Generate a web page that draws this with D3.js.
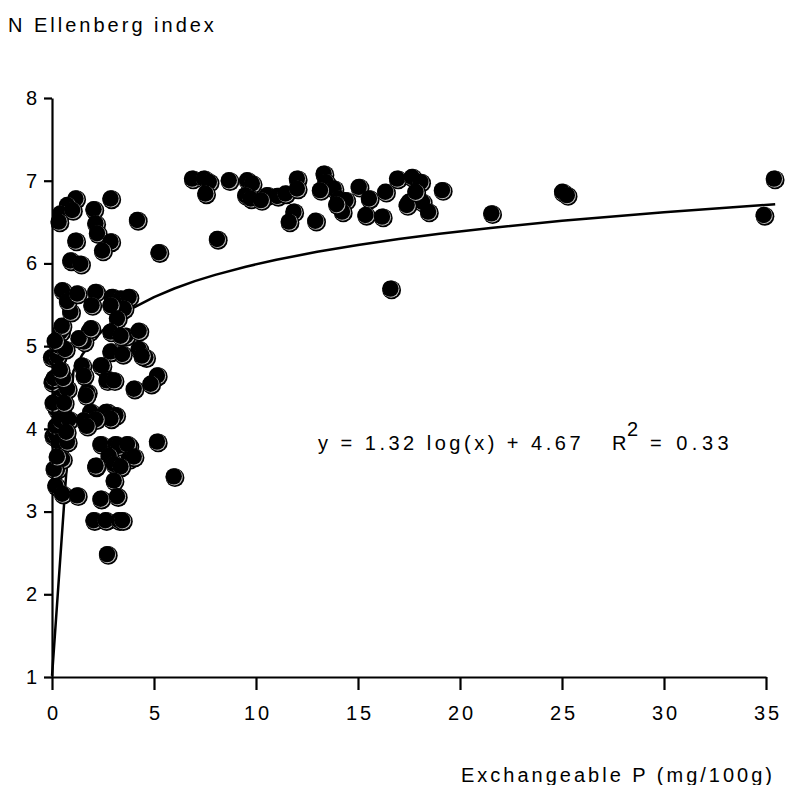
<!DOCTYPE html>
<html>
<head>
<meta charset="utf-8">
<script src="https://cdn.jsdelivr.net/npm/d3@7/dist/d3.min.js"></script>
<style>
  html, body { margin: 0; padding: 0; background: #fff; }
  svg text { font-family: "Liberation Sans", Arial, Helvetica, sans-serif; fill: #000; }
</style>
</head>
<body>
<svg id="chart" width="796" height="785"></svg>
<script>
// ---- Data ----
const pX = [
  0.02,0.05,0.10,0.15,0.23,0.23,0.25,0.25,0.25,0.31,0.31,0.31,0.39,0.39,0.39,0.47,0.47,0.47,0.54,0.56,0.56,0.80,0.80,0.96,0.88,0.15,0.10,0.60,0.70,0.65,0.75,0.30,0.45,0.20,
  0.56,0.80,1.29,2.19,3.00,3.42,3.82,3.58,2.00,2.93,3.25,
  1.86,2.93,1.62,1.37,1.96,3.67,4.31,3.42,2.93,2.44,2.50,3.50,4.31,4.64,4.46,1.52,1.62,2.76,2.74,3.09,5.21,4.89,4.07,1.78,1.72,1.94,2.76,2.70,3.17,1.62,2.93,2.20,1.76,
  2.44,3.17,3.33,3.82,3.74,5.21,2.84,3.82,4.07,2.19,3.09,3.42,2.20,6.03,3.09,1.29,2.44,3.25,2.10,2.68,3.33,3.50,2.76,
  1.21,2.93,0.80,0.47,1.05,2.10,0.39,2.19,2.27,1.21,2.93,2.52,0.96,1.45,4.23,5.29,
  6.93,7.50,7.75,7.58,8.73,9.62,9.86,9.54,9.79,10.6,11.1,11.5,12.07,12.07,11.9,11.67,12.97,13.38,13.47,13.87,14.1,14.45,14.28,15.1,15.6,15.43,16.24,16.4,16.98,17.7,18.12,17.55,18.2,18.5,19.18,17.45,17.88,10.3,13.2,14.0,
  8.15,16.65,21.6,25.07,25.3,35.45,34.95
];
const pY = [
  4.85,4.55,3.90,4.60,3.93,3.30,4.83,4.23,4.02,4.87,4.31,3.50,4.99,4.35,3.83,5.16,4.15,4.09,5.23,3.62,3.20,4.47,3.83,5.40,4.10,3.50,4.30,4.60,4.95,4.30,3.95,3.65,4.70,5.05,
  5.66,5.53,5.62,5.64,5.58,5.56,5.58,5.44,5.48,5.48,5.32,
  5.16,5.16,5.04,5.08,5.20,5.11,5.17,5.11,4.92,4.75,4.75,4.89,4.95,4.85,4.87,4.75,4.63,4.59,4.57,4.57,4.63,4.53,4.47,4.43,4.39,4.19,4.19,4.19,4.15,4.09,4.11,4.10,4.02,
  3.80,3.80,3.78,3.78,3.80,3.83,3.66,3.62,3.65,3.53,3.56,3.53,3.54,3.41,3.36,3.18,3.14,3.17,2.88,2.88,2.88,2.88,2.47,
  6.77,6.77,6.69,6.59,6.63,6.64,6.49,6.47,6.35,6.26,6.25,6.14,6.02,5.98,6.51,6.12,
  7.01,7.01,6.97,6.83,6.99,6.99,6.95,6.81,6.77,6.81,6.80,6.83,7.01,6.89,6.61,6.49,6.50,7.07,6.97,6.89,6.77,6.75,6.61,6.91,6.77,6.57,6.55,6.85,7.01,7.03,6.97,6.73,6.73,6.61,6.87,6.69,6.85,6.75,6.87,6.70,
  6.28,5.68,6.59,6.85,6.81,7.01,6.57
];
// fitted curve: y = 1.32 log10(x) + 4.67, sampled at these x values
const fitA = 1.32, fitB = 4.67;
const fitX = [0.0017,1.05,1.5,2,2.6,3.3,4,5,6,7,8,9.5,11,13,15,17,19,21.5,25,30,35.45];
const xTicks = [0,5,10,15,20,25,30,35];
const yTicks = [1,2,3,4,5,6,7,8];
const yTitle = "N Ellenberg index";
const xTitle = "Exchangeable P (mg/100g)";

// ---- Drawing ----
const svg = d3.select("#chart");
const x = d3.scaleLinear().domain([0,35]).range([52,766]);
const y = d3.scaleLinear().domain([1,8]).range([677,98]);
const FS = "20px", LS = "3px";

// curve
const line = d3.line().x(d => x(d)).y(d => y(fitA*Math.log10(d)+fitB));
svg.append("path").attr("d", line(fitX)).attr("fill","none")
  .attr("stroke","#000").attr("stroke-width",2.5).attr("stroke-linejoin","round");

// points
const pts = pX.map((v,i)=>({x:v,y:pY[i]}));
const g = svg.append("g");
pts.forEach(d => {
  const cx = x(d.x), cy = y(d.y);
  g.append("circle").attr("cx",cx).attr("cy",cy).attr("r",9.4).attr("fill","#000");
  g.append("circle").attr("cx",cx-0.6).attr("cy",cy-0.6).attr("r",8.4).attr("fill","#bbb");
  g.append("circle").attr("cx",cx-1.3).attr("cy",cy-1.3).attr("r",8.2).attr("fill","#000");
});

// axes
const yAxis = svg.append("g").attr("transform","translate(52,0)")
  .call(d3.axisLeft(y).tickValues(yTicks).tickSize(8).tickSizeOuter(0).tickPadding(6).tickFormat(d3.format("d")));
const xAxis = svg.append("g").attr("transform","translate(0,677)")
  .call(d3.axisBottom(x).tickValues(xTicks).tickSize(13).tickSizeOuter(0).tickPadding(16).tickFormat(d3.format("d")));
[yAxis, xAxis].forEach(a => {
  a.selectAll("path, line").attr("stroke","#000").attr("stroke-width",2.2);
  a.selectAll("text").style("font-size",FS).style("letter-spacing",LS)
    .style("font-family","'Liberation Sans', Arial, sans-serif");
});
xAxis.selectAll("text").attr("dx","1.5px");
yAxis.selectAll("text").attr("dx","2px");

// titles
svg.append("text").attr("x",8).attr("y",32).style("font-size",FS).style("letter-spacing",LS).text(yTitle);
svg.append("text").attr("x",461).attr("y",782).style("font-size",FS).style("letter-spacing",LS).text(xTitle);

// equation
const eq = svg.append("text").attr("y",450).style("font-size",FS);
eq.append("tspan").attr("x",318).style("letter-spacing","3.5px")
  .text("y = " + fitA.toFixed(2) + " log(x) + " + fitB.toFixed(2));
eq.append("tspan").attr("x",612).text("R");
eq.append("tspan").attr("x",627).attr("dy",-14).text("2");
eq.append("tspan").attr("x",650).attr("dy",14).style("letter-spacing","4.5px").text("= 0.33");
</script>
</body>
</html>
